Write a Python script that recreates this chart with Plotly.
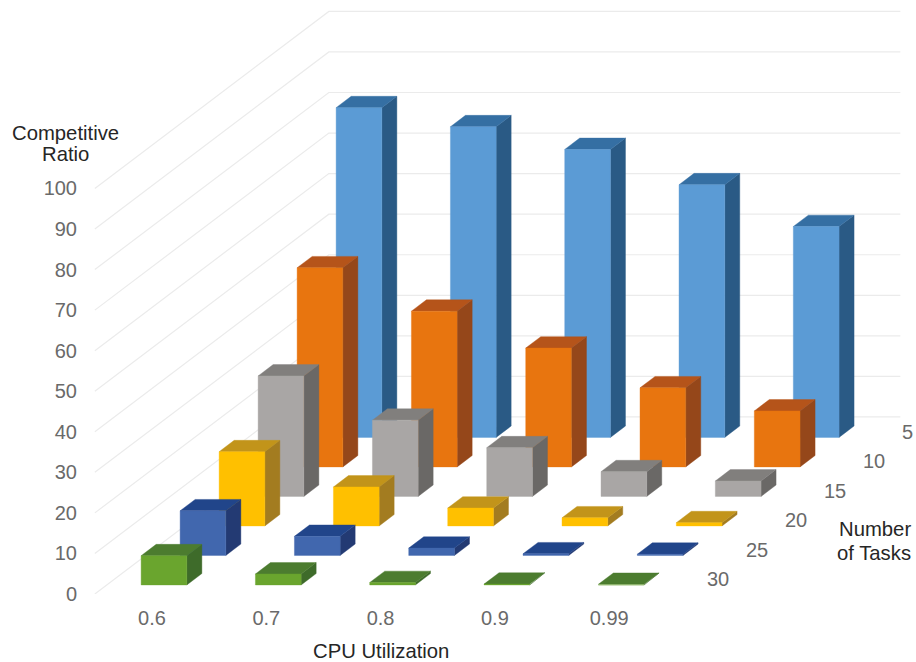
import plotly.graph_objects as go

# Categories and series values
utilization = ["0.6", "0.7", "0.8", "0.9", "0.99"]
task_counts = ["30", "25", "20", "15", "10", "5"]  # front row to back row
ratio_30 = [7.2, 2.7, 0.6, 0.2, 0.15]
ratio_25 = [11.0, 4.7, 1.8, 0.4, 0.3]
ratio_20 = [18.3, 9.6, 4.4, 2.0, 0.8]
ratio_15 = [29.7, 18.8, 12.0, 6.1, 3.8]
ratio_10 = [49.1, 38.4, 29.3, 19.5, 13.8]
ratio_5 = [81.3, 76.6, 71.0, 62.3, 52.0]
rows = [ratio_30, ratio_25, ratio_20, ratio_15, ratio_10, ratio_5]
value_ticks = list(range(0, 101, 10))

# (front, top, side) shades for each row
row_colors = [
    ("#6aa52e", "#4c7c2f", "#3e6b2a"),
    ("#4167ae", "#21458a", "#233a73"),
    ("#ffc000", "#c2941a", "#a37c20"),
    ("#a9a6a5", "#817f7d", "#6a6866"),
    ("#e8750f", "#b5541a", "#95471a"),
    ("#5b9bd5", "#356fa3", "#2a5a85"),
]

# Oblique projection: one row of depth shifts right and up on the page
SHEAR_X = 39 / 114.3
SHEAR_Y = 29.5 / 4.054
BAR_WIDTH = 0.4
BAR_DEPTH = 0.385
ROW_GAP = (1 - BAR_DEPTH) / 2
FIG_W, FIG_H = 916, 662
M_L, M_B = 78, 68.2
plot_w = FIG_W - M_L
plot_h = FIG_H - M_B


def project(x, depth, value):
    return x + depth * SHEAR_X, value + depth * SHEAR_Y


def polygon(corners):
    pts = [project(*c) for c in corners]
    pts.append(pts[0])
    return [p[0] for p in pts], [p[1] for p in pts]


fig = go.Figure()

# Gridlines run along the side wall and then across the back wall
n_rows = len(rows)
right_edge = len(utilization) - 0.5
for v in value_ticks:
    pts = [project(-0.5, 0, v), project(-0.5, n_rows, v), project(right_edge, n_rows, v)]
    fig.add_trace(go.Scatter(x=[p[0] for p in pts], y=[p[1] for p in pts], mode="lines",
                             line=dict(color="#ebebeb", width=1.2), hoverinfo="skip"))

# Rows are painted from back to front so nearer bars cover farther ones
for r in reversed(range(n_rows)):
    front, top, side = row_colors[r]
    d0 = r + ROW_GAP
    d1 = d0 + BAR_DEPTH
    for c, v in enumerate(rows[r]):
        x0 = c - BAR_WIDTH / 2
        x1 = c + BAR_WIDTH / 2
        faces = [
            (side, [(x1, d0, 0), (x1, d1, 0), (x1, d1, v), (x1, d0, v)]),
            (top, [(x0, d0, v), (x1, d0, v), (x1, d1, v), (x0, d1, v)]),
            (front, [(x0, d0, 0), (x1, d0, 0), (x1, d0, v), (x0, d0, v)]),
        ]
        for color, corners in faces:
            xs, ys = polygon(corners)
            fig.add_trace(go.Scatter(x=xs, y=ys, mode="lines", fill="toself", fillcolor=color,
                                     line=dict(color=color, width=0.4), hoverinfo="skip"))

title_font = dict(family="Liberation Sans", size=20.3, color="#262626")
tick_font = dict(family="Liberation Sans", size=20, color="#6a6a6a")


def page_text(text, px, py):
    # Paper coordinates are measured against the plot area, so convert from page pixels
    fig.add_annotation(text=text, x=(px - M_L) / plot_w, y=(FIG_H - M_B - py) / plot_h,
                       xref="paper", yref="paper", xanchor="center", yanchor="middle",
                       showarrow=False, font=title_font)


# Row labels sit just past the right end of each row
for r, label in enumerate(task_counts):
    lx, ly = project(right_edge, r + 0.5, 0)
    fig.add_annotation(text=label, x=lx, y=ly, xref="x", yref="y", xanchor="left", yanchor="middle",
                       xshift=19, showarrow=False, font=tick_font)

page_text("Competitive", 65.3, 133)
page_text("Ratio", 65.3, 154)
page_text("Number", 875, 529)
page_text("of Tasks", 874, 552.7)
page_text("CPU Utilization", 381, 651)

fig.update_layout(
    width=FIG_W, height=FIG_H,
    margin=dict(l=M_L, r=0, t=0, b=M_B, autoexpand=False),
    paper_bgcolor="white", plot_bgcolor="white", showlegend=False,
    xaxis=dict(range=[-(152 - M_L) / 114.3, (FIG_W - 152) / 114.3],
               tickmode="array", tickvals=list(range(len(utilization))), ticktext=utilization,
               showgrid=False, zeroline=False, showline=False, ticks="", tickfont=tick_font,
               ticklabelstandoff=10, fixedrange=True),
    yaxis=dict(range=[0, plot_h / 4.054],
               tickmode="array", tickvals=value_ticks, ticktext=[str(v) for v in value_ticks],
               showgrid=False, zeroline=False, showline=False, ticks="", tickfont=tick_font,
               fixedrange=True),
)
fig.write_html("out.html")
